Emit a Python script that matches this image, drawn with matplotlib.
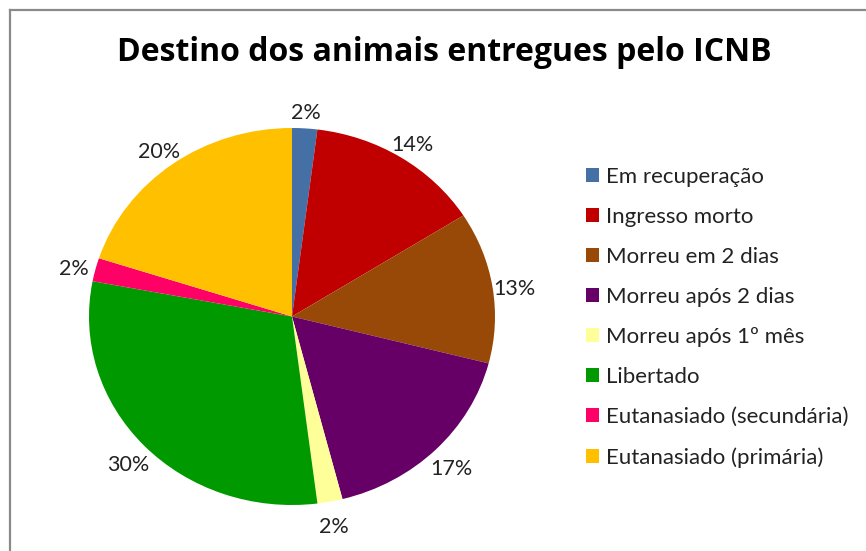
import matplotlib
matplotlib.use("Agg")
import matplotlib.pyplot as plt
from matplotlib.lines import Line2D
from matplotlib.transforms import ScaledTranslation

categories = ["Em recuperação", "Ingresso morto", "Morreu em 2 dias", "Morreu após 2 dias",
              "Morreu após 1º mês", "Libertado", "Eutanasiado (secundária)", "Eutanasiado (primária)"]
values = [2, 14, 13, 17, 2, 30, 2, 20]
colors = ["#4470A6", "#C00000", "#984807", "#660066", "#FFFF99", "#009900", "#FF0066", "#FFC000"]
title = "Destino dos animais entregues pelo ICNB"

plt.rcParams['font.family'] = ['Lato', 'DejaVu Sans']

W, H = 866, 551
fig = plt.figure(figsize=(W / 100, H / 100), dpi=100)
fig.patch.set_facecolor("white")

# frame
fig.add_artist(Line2D([10 / W, 10 / W], [0, 1 - 10 / H], transform=fig.transFigure, color="#8a8a8a", lw=1.6))
fig.add_artist(Line2D([10 / W, 1], [1 - 10 / H, 1 - 10 / H], transform=fig.transFigure, color="#8a8a8a", lw=1.6))

cx0, cx1, cy0, cy1 = 89, 495, 128, 505
ax = fig.add_axes([cx0 / W, 1 - cy1 / H, (cx1 - cx0) / W, (cy1 - cy0) / H])
wedges, texts, autotexts = ax.pie(values, colors=colors, startangle=90, counterclock=False,
                                  autopct=lambda p: f"{p:.0f}%", pctdistance=1.11,
                                  textprops=dict(fontsize=15.5, color="#222222"))
shift = ScaledTranslation(0, -5 / 100, fig.dpi_scale_trans)
for t in autotexts:
    t.set_transform(t.get_transform() + shift)
ax.set_aspect('auto')
ax.set_xlim(-1, 1)
ax.set_ylim(-1, 1)
ax.axis('off')

fig.text(0.5 * (118 + 770) / W, 1 - 53 / H, title, ha="center", va="center",
         fontsize=23, fontweight="bold", color="black", family=["Open Sans", "DejaVu Sans"])

fig.legend(wedges, categories, loc="upper left", bbox_to_anchor=(586 / W, 1 - 167 / H),
           frameon=False, fontsize=16, handlelength=0.6, handleheight=0.6,
           handletextpad=0.3, labelspacing=0.9, borderaxespad=0, borderpad=0,
           labelcolor="#222222")

fig.savefig("out.png", dpi=100)
